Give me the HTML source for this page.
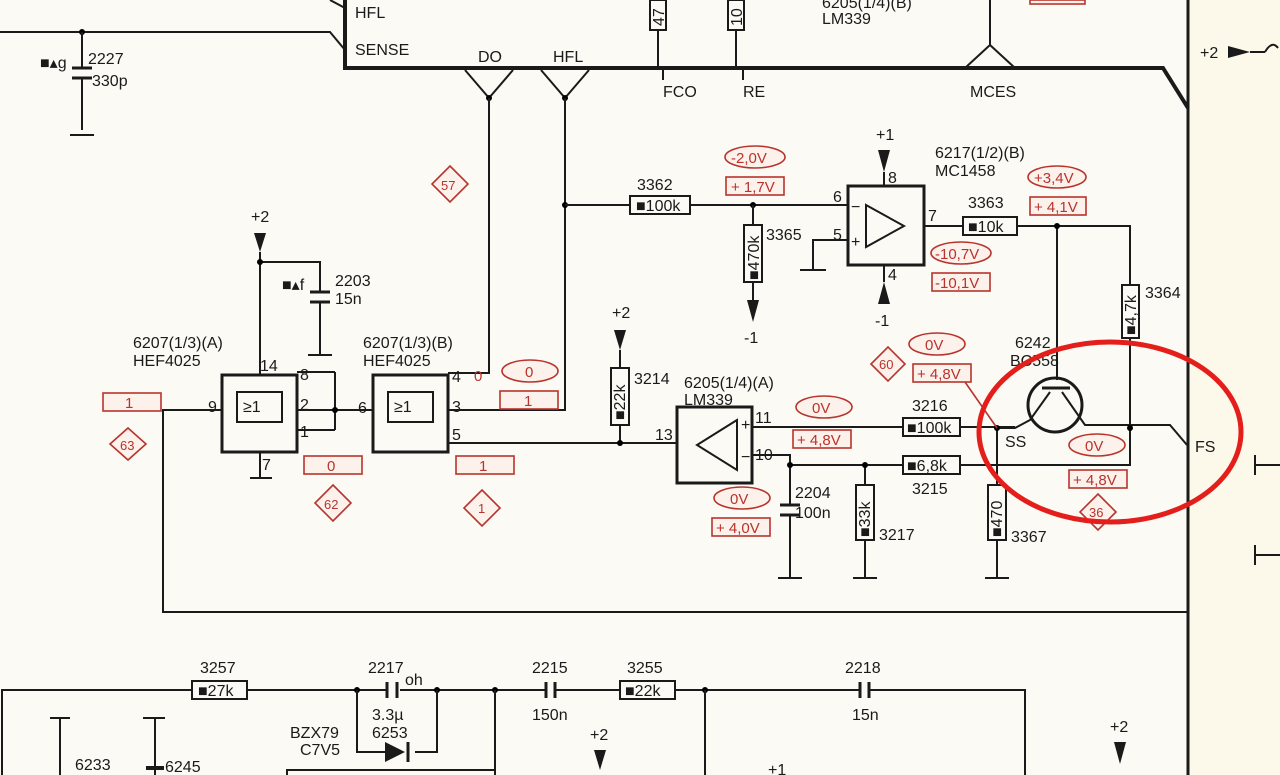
<!DOCTYPE html>
<html><head><meta charset="utf-8"><style>
html,body{margin:0;padding:0;background:#fbfaf4;}
svg{display:block;font-family:"Liberation Sans",sans-serif;}
.k{stroke:#1a1a1a;stroke-width:2;fill:none}
.t{fill:#1a1a1a;font-size:16px}
.r{fill:#b8342c;font-size:15px}
.rb{stroke:#b8342c;stroke-width:1.6;fill:#fdf1ec}
</style></head><body>
<svg width="1280" height="775" viewBox="0 0 1280 775">
<rect x="1188" y="0" width="92" height="775" fill="#fcf8ea"/>
<!-- top block -->
<path d="M345 0V68H1163L1188 108" stroke="#1a1a1a" stroke-width="4" fill="none"/>
<line x1="1188" y1="0" x2="1188" y2="775" stroke="#1a1a1a" stroke-width="3"/>
<path class="k" d="M0 32H330L345 50"/>
<path class="k" d="M330 0L345 8"/>
<text class="t" x="355" y="18">HFL</text><text class="t" x="355" y="55">SENSE</text>
<text class="t" x="478" y="62">DO</text><text class="t" x="553" y="62">HFL</text>
<text class="t" x="663" y="97">FCO</text><text class="t" x="743" y="97">RE</text><text class="t" x="970" y="97">MCES</text>
<path class="k" d="M663 68V80M743 68V80"/>
<rect x="650" y="0" width="16" height="30" class="k" fill="#fff"/><text class="t" x="664" y="26" transform="rotate(-90 664 26)" font-size="13">47</text>
<rect x="728" y="0" width="16" height="30" class="k" fill="#fff"/><text class="t" x="742" y="26" transform="rotate(-90 742 26)" font-size="13">10</text>
<path class="k" d="M658 30V68M736 30V68"/>
<text class="t" x="822" y="8">6205(1/4)(B)</text><text class="t" x="822" y="24">LM339</text>
<path class="k" d="M990 0V45M965 68L990 45L1015 68"/>
<rect x="1030" y="0" width="55" height="4" class="rb"/>
<!-- DO/HFL triangles -->
<path class="k" d="M465 70L489 98L513 70M541 70L565 98L589 70"/>
<circle cx="489" cy="98" r="3"/><circle cx="565" cy="98" r="3"/>
<path class="k" d="M489 98V373H448M565 98V410H448"/>
<!-- 2227 -->
<circle cx="82" cy="32" r="3"/>
<path class="k" d="M82 32V68M82 79V130M70 135H94"/>
<path d="M72 68H92M72 78H92" stroke="#1a1a1a" stroke-width="3"/>
<text class="t" x="88" y="64">2227</text><text class="t" x="92" y="86">330p</text>
<text class="t" x="40" y="68" font-size="13">■▴g</text>
<!-- 3362 and opamp -->
<circle cx="565" cy="205" r="3"/>
<path class="k" d="M565 205H630M690 205H848"/>
<rect x="630" y="196" width="60" height="18" class="k" fill="#fff"/>
<text class="t" x="636" y="211">■100k</text><text class="t" x="637" y="190">3362</text>
<circle cx="753" cy="205" r="3"/>
<path class="k" d="M753 205V225M753 282V300"/>
<rect x="744" y="225" width="18" height="57" class="k" fill="#fff"/>
<text class="t" x="759" y="280" transform="rotate(-90 759 280)">■470k</text>
<text class="t" x="766" y="240">3365</text>
<path d="M747 300L759 300L753 322Z" fill="#1a1a1a"/><text class="t" x="744" y="343">-1</text>
<rect x="848" y="186" width="76" height="79" stroke="#1a1a1a" stroke-width="3" fill="none"/>
<path class="k" d="M866 205L904 226L866 247Z"/>
<text class="t" x="851" y="212" font-size="13">−</text><text class="t" x="851" y="247" font-size="13">+</text>
<text class="t" x="833" y="202">6</text><text class="t" x="833" y="240">5</text><text class="t" x="928" y="221">7</text>
<path class="k" d="M848 240H813V270M800 270H826"/>
<text class="t" x="876" y="140">+1</text><path d="M878 150H890L884 172Z" fill="#1a1a1a"/><path class="k" d="M884 172V186M884 265V282"/>
<text class="t" x="888" y="183">8</text><text class="t" x="888" y="280">4</text>
<path d="M878 304H890L884 282Z" fill="#1a1a1a"/><text class="t" x="875" y="326">-1</text>
<text class="t" x="935" y="158">6217(1/2)(B)</text><text class="t" x="935" y="176">MC1458</text>
<path class="k" d="M924 226H963M1017 226H1130V285M1130 338V465H960M1057 226V380"/>
<rect x="963" y="217" width="54" height="18" class="k" fill="#fff"/>
<text class="t" x="968" y="232">■10k</text><text class="t" x="968" y="208">3363</text>
<circle cx="1057" cy="226" r="3"/>
<rect x="1122" y="285" width="17" height="53" class="k" fill="#fff"/>
<text class="t" x="1136" y="335" transform="rotate(-90 1136 335)">■4,7k</text>
<text class="t" x="1145" y="298">3364</text>
<!-- transistor -->
<circle cx="1055" cy="405" r="27" stroke="#1a1a1a" stroke-width="3" fill="none"/>
<path d="M1042 388H1070" stroke="#1a1a1a" stroke-width="3"/>
<path class="k" d="M1050 392L1030 420L1015 428H997M1062 392L1085 425H1170L1187 445"/>
<text class="t" x="1015" y="348">6242</text><text class="t" x="1010" y="366">BC558</text>
<text class="t" x="1005" y="447">SS</text><text class="t" x="1195" y="452">FS</text>
<circle cx="1130" cy="428" r="3"/>
<!-- LM339 -->
<rect x="677" y="407" width="75" height="76" stroke="#1a1a1a" stroke-width="3" fill="none"/>
<path class="k" d="M737 420L697 445L737 470Z"/>
<text class="t" x="741" y="430" font-size="12">+</text><text class="t" x="741" y="462" font-size="12">−</text>
<text class="t" x="684" y="388">6205(1/4)(A)</text><text class="t" x="684" y="405">LM339</text>
<text class="t" x="755" y="423">11</text><text class="t" x="755" y="460">10</text><text class="t" x="655" y="440">13</text>
<path class="k" d="M752 427H903M960 427H1015M752 455H790V465H903M997 428V485M997 540V578M985 578H1009"/>
<path class="k" d="M790 465V505M790 515V578M778 578H802M865 465V485M865 540V578M853 578H877"/>
<circle cx="790" cy="465" r="3"/><circle cx="865" cy="465" r="3"/><circle cx="997" cy="428" r="3"/>
<rect x="903" y="418" width="57" height="18" class="k" fill="#fff"/><text class="t" x="907" y="433">■100k</text><text class="t" x="912" y="411">3216</text>
<rect x="903" y="456" width="57" height="18" class="k" fill="#fff"/><text class="t" x="907" y="471">■6,8k</text><text class="t" x="912" y="494">3215</text>
<path d="M780 505H800M780 515H800" stroke="#1a1a1a" stroke-width="3"/><text class="t" x="795" y="498">2204</text><text class="t" x="795" y="518">100n</text>
<rect x="856" y="485" width="18" height="55" class="k" fill="#fff"/><text class="t" x="870" y="537" transform="rotate(-90 870 537)">■33k</text><text class="t" x="879" y="540">3217</text>
<rect x="988" y="485" width="18" height="55" class="k" fill="#fff"/><text class="t" x="1002" y="537" transform="rotate(-90 1002 537)">■470</text><text class="t" x="1011" y="542">3367</text>
<!-- 3214 -->
<text class="t" x="612" y="318">+2</text><path d="M614 330H626L620 350Z" fill="#1a1a1a"/>
<path class="k" d="M620 350V368M620 425V443M448 443H677"/>
<circle cx="620" cy="443" r="3"/>
<rect x="611" y="368" width="18" height="57" class="k" fill="#fff"/><text class="t" x="625" y="420" transform="rotate(-90 625 420)">■22k</text><text class="t" x="634" y="384">3214</text>
<!-- gates -->
<rect x="222" y="375" width="75" height="77" stroke="#1a1a1a" stroke-width="3" fill="none"/>
<rect x="237" y="392" width="45" height="30" class="k"/><text class="t" x="243" y="412">≥1</text>
<rect x="373" y="375" width="75" height="77" stroke="#1a1a1a" stroke-width="3" fill="none"/>
<rect x="388" y="392" width="45" height="30" class="k"/><text class="t" x="394" y="412">≥1</text>
<text class="t" x="133" y="348">6207(1/3)(A)</text><text class="t" x="133" y="366">HEF4025</text>
<text class="t" x="363" y="348">6207(1/3)(B)</text><text class="t" x="363" y="366">HEF4025</text>
<path class="k" d="M297 372H335M297 410H373M297 430H335M335 372V430M260 452V478M250 478H272"/>
<circle cx="335" cy="410" r="3"/>
<text class="t" x="260" y="371">14</text><text class="t" x="300" y="380">8</text><text class="t" x="300" y="410">2</text><text class="t" x="300" y="437">1</text>
<text class="t" x="208" y="412">9</text><text class="t" x="262" y="470">7</text>
<text class="t" x="358" y="413">6</text><text class="t" x="452" y="382">4</text><text class="t" x="452" y="412">3</text><text class="t" x="452" y="440">5</text>
<text class="t" x="251" y="222">+2</text><path d="M254 233H266L260 252Z" fill="#1a1a1a"/>
<path class="k" d="M260 252V375M260 262H320V292M320 303V355M308 355H332"/>
<circle cx="260" cy="262" r="3"/>
<path d="M310 292H330M310 302H330" stroke="#1a1a1a" stroke-width="3"/>
<text class="t" x="335" y="286">2203</text><text class="t" x="335" y="304">15n</text><text class="t" x="282" y="290" font-size="13">■▴f</text>
<path class="k" d="M222 410H163V612H1188"/>
<!-- red labels -->
<g class="r">
<rect x="103" y="393" width="58" height="18" class="rb"/><text x="125" y="408">1</text>
<path d="M128 428L146 444L128 460L110 444Z" class="rb"/><text x="120" y="450" font-size="13">63</text>
<rect x="304" y="456" width="58" height="18" class="rb"/><text x="327" y="471">0</text>
<path d="M333 485L351 503L333 521L315 503Z" class="rb"/><text x="324" y="509" font-size="13">62</text>
<rect x="456" y="456" width="58" height="18" class="rb"/><text x="479" y="471">1</text>
<path d="M482 490L500 508L482 526L464 508Z" class="rb"/><text x="478" y="513" font-size="13">1</text>
<path d="M450 166L468 184L450 202L432 184Z" class="rb"/><text x="441" y="190" font-size="13">57</text>
<text x="474" y="381">0</text>
<ellipse cx="530" cy="371" rx="28" ry="11" class="rb"/><text x="525" y="377">0</text>
<rect x="500" y="391" width="58" height="18" class="rb"/><text x="524" y="406">1</text>
<ellipse cx="755" cy="157" rx="30" ry="11" class="rb"/><text x="731" y="163">-2,0V</text>
<rect x="726" y="177" width="58" height="18" class="rb"/><text x="731" y="192">+ 1,7V</text>
<ellipse cx="1057" cy="177" rx="29" ry="11" class="rb"/><text x="1034" y="183">+3,4V</text>
<rect x="1030" y="197" width="56" height="18" class="rb"/><text x="1034" y="212">+ 4,1V</text>
<ellipse cx="961" cy="253" rx="30" ry="11" class="rb"/><text x="935" y="259">-10,7V</text>
<rect x="932" y="273" width="58" height="18" class="rb"/><text x="935" y="288">-10,1V</text>
<ellipse cx="824" cy="407" rx="28" ry="11" class="rb"/><text x="812" y="413">0V</text>
<rect x="793" y="430" width="58" height="18" class="rb"/><text x="797" y="445">+ 4,8V</text>
<ellipse cx="742" cy="498" rx="28" ry="11" class="rb"/><text x="730" y="504">0V</text>
<rect x="712" y="518" width="58" height="18" class="rb"/><text x="716" y="533">+ 4,0V</text>
<ellipse cx="937" cy="344" rx="28" ry="11" class="rb"/><text x="925" y="350">0V</text>
<rect x="913" y="364" width="58" height="18" class="rb"/><text x="917" y="379">+ 4,8V</text>
<path class="rb" fill="none" d="M965 382L997 428"/>
<path d="M888 347L905 364L888 381L871 364Z" class="rb"/><text x="879" y="369" font-size="13">60</text>
<ellipse cx="1097" cy="445" rx="28" ry="11" class="rb"/><text x="1085" y="451">0V</text>
<rect x="1069" y="470" width="58" height="18" class="rb"/><text x="1073" y="485">+ 4,8V</text>
<path d="M1098 494L1116 512L1098 530L1080 512Z" class="rb"/><text x="1089" y="517" font-size="13">36</text>
</g>
<ellipse cx="1110" cy="432" rx="131" ry="90" stroke="#e41e1a" stroke-width="5" fill="none"/>
<!-- right edge -->
<text class="t" x="1200" y="58">+2</text><path d="M1228 46V58L1250 52Z" fill="#1a1a1a"/><path class="k" d="M1250 52H1265M1265 52Q1272 40 1278 48"/>
<path class="k" d="M1255 455V475M1255 465H1280M1255 545V565M1255 555H1280" stroke-width="3"/>
<!-- bottom -->
<path class="k" d="M2 775V690H192M247 690H387M400 690H545M555 690H620M675 690H860M870 690H1025V775"/>
<rect x="192" y="681" width="55" height="18" class="k" fill="#fff"/><text class="t" x="198" y="696">■27k</text><text class="t" x="200" y="673">3257</text>
<rect x="620" y="681" width="55" height="18" class="k" fill="#fff"/><text class="t" x="625" y="696">■22k</text><text class="t" x="627" y="673">3255</text>
<path d="M387 682V698M397 682V698M546 682V698M555 682V698M860 682V698M869 682V698" stroke="#1a1a1a" stroke-width="3"/>
<text class="t" x="368" y="673">2217</text><text class="t" x="405" y="685" font-size="13">oh</text><text class="t" x="372" y="720">3.3µ</text><text class="t" x="372" y="738">6253</text>
<text class="t" x="532" y="673">2215</text><text class="t" x="532" y="720">150n</text>
<text class="t" x="845" y="673">2218</text><text class="t" x="852" y="720">15n</text>
<text class="t" x="290" y="738">BZX79</text><text class="t" x="300" y="755">C7V5</text>
<circle cx="357" cy="690" r="3"/><circle cx="437" cy="690" r="3"/><circle cx="495" cy="690" r="3"/><circle cx="705" cy="690" r="3"/>
<path class="k" d="M357 690V752H385M415 752H437V690M495 690V775M287 775V770H495M705 690V775"/>
<path d="M385 742V762L405 752Z" fill="#1a1a1a"/><path d="M408 742V762" stroke="#1a1a1a" stroke-width="3"/>
<path class="k" d="M50 718H70M60 718V775M143 718H165M155 718V775"/><path d="M146 768H164" stroke="#1a1a1a" stroke-width="4"/>
<text class="t" x="75" y="770">6233</text><text class="t" x="165" y="772">6245</text>
<text class="t" x="590" y="740">+2</text><path d="M594 750H606L600 770Z" fill="#1a1a1a"/>
<text class="t" x="1110" y="732">+2</text><path d="M1114 742H1126L1120 764Z" fill="#1a1a1a"/>
<text class="t" x="768" y="775">+1</text>
</svg>
</body></html>
